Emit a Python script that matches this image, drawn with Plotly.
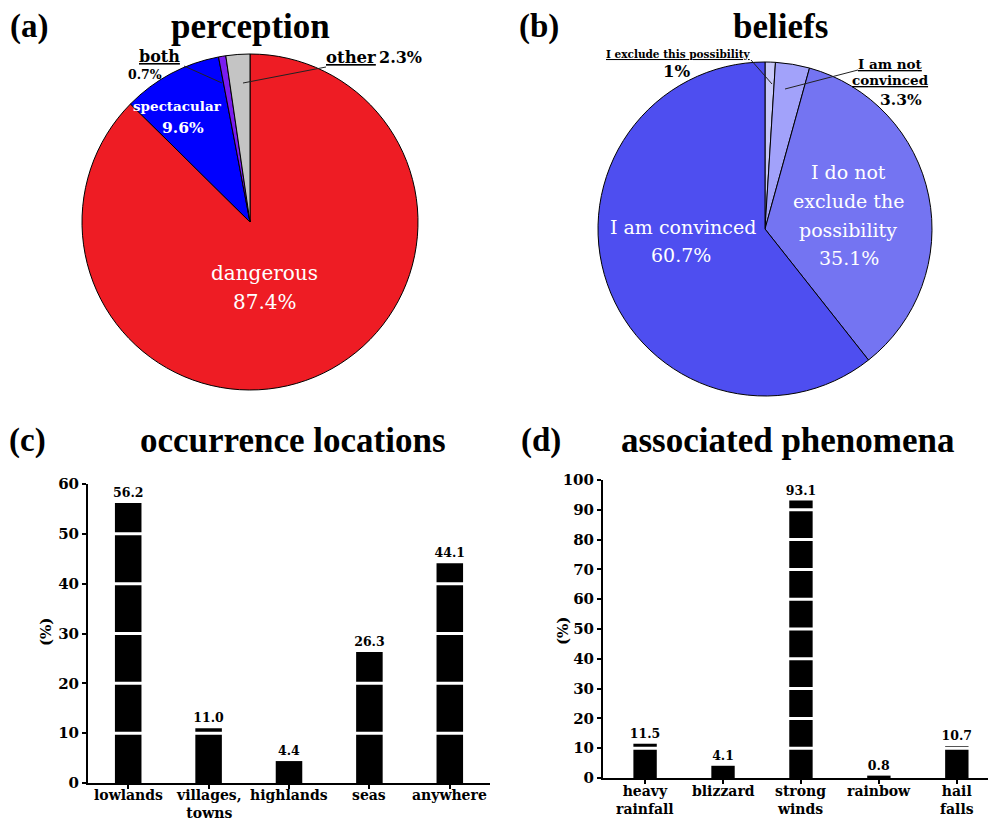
import plotly.graph_objects as go

W, H = 993, 819

# ---------------- data ----------------
perc_labels = ["dangerous", "spectacular", "both", "other"]
perc_values = [87.4, 9.6, 0.7, 2.3]
perc_colors = ["#ee1c24", "#0000ff", "#7a1cf0", "#c4c4c4"]

bel_labels = ["I exclude this possibility", "I am not convinced",
              "I do not exclude the possibility", "I am convinced"]
bel_values = [1.0, 3.3, 35.1, 60.7]
bel_colors = ["#c8c8fa", "#a2a2fa", "#7474f2", "#4e4ef0"]

loc_cats = ["lowlands", "villages, towns", "highlands", "seas", "anywhere"]
loc_tick_text = ["lowlands", "villages,<br>towns", "highlands", "seas", "anywhere"]
loc_values = [56.2, 11.0, 4.4, 26.3, 44.1]
loc_ticks = [0, 10, 20, 30, 40, 50, 60]

phen_cats = ["heavy rainfall", "blizzard", "strong winds", "rainbow", "hail falls"]
phen_tick_text = ["heavy<br>rainfall", "blizzard", "strong<br>winds", "rainbow", "hail<br>falls"]
phen_values = [11.5, 4.1, 93.1, 0.8, 10.7]
phen_ticks = [0, 10, 20, 30, 40, 50, 60, 70, 80, 90, 100]

TFONT = "Liberation Serif"
FONT = "DejaVu Serif"


def px(x):
    return x / W


def py(y):
    return 1 - y / H


def pie_domain(cx, cy, r):
    return dict(x=[px(cx - r), px(cx + r)], y=[py(cy + r), py(cy - r)])


fig = go.Figure()

fig.add_trace(go.Pie(
    labels=perc_labels, values=perc_values, sort=False, direction="clockwise",
    rotation=0, textinfo="none", hoverinfo="label+percent",
    marker=dict(colors=perc_colors, line=dict(color="black", width=1)),
    domain=pie_domain(250, 222, 168), showlegend=False,
))
fig.add_trace(go.Pie(
    labels=bel_labels, values=bel_values, sort=False, direction="clockwise",
    rotation=0, textinfo="none", hoverinfo="label+percent",
    marker=dict(colors=bel_colors, line=dict(color="black", width=1)),
    domain=pie_domain(765, 229, 167), showlegend=False,
))

fig.add_trace(go.Bar(
    x=loc_cats, y=loc_values, xaxis="x", yaxis="y",
    marker=dict(color="black", line=dict(width=0)),
    text=[f"<b>{v:.1f}</b>" for v in loc_values], textposition="outside",
    constraintext="none",
    textfont=dict(family=FONT, size=12.5, color="black"),
    cliponaxis=False, showlegend=False, width=0.33,
))
fig.add_trace(go.Bar(
    x=phen_cats, y=phen_values, xaxis="x2", yaxis="y2",
    marker=dict(color="black", line=dict(width=0)),
    text=[f"<b>{v:.1f}</b>" for v in phen_values], textposition="outside",
    constraintext="none",
    textfont=dict(family=FONT, size=12.5, color="black"),
    cliponaxis=False, showlegend=False, width=0.30,
))

axis_common = dict(showline=True, linecolor="black", linewidth=2, ticks="outside",
                   ticklen=4, tickwidth=1.5, tickcolor="black", showgrid=False,
                   zeroline=False, fixedrange=True, automargin=False,
                   tickfont=dict(family=FONT, size=15, color="black"))

shapes = []
# white separators drawn across the bars at each gridline value
for t in loc_ticks[1:-1]:
    shapes.append(dict(type="line", xref="x domain", yref="y", x0=0.01, x1=1,
                       y0=t, y1=t, line=dict(color="white", width=3), layer="above"))
for t in phen_ticks[1:-1]:
    shapes.append(dict(type="line", xref="x2 domain", yref="y2", x0=0.01, x1=1,
                       y0=t, y1=t, line=dict(color="white", width=3), layer="above"))

# leader lines on pies
for (x0, y0, x1, y1) in [(184, 66, 222, 83), (326, 67, 243, 83),
                          (751, 60, 772, 84), (858, 70, 785, 89)]:
    shapes.append(dict(type="line", xref="paper", yref="paper",
                       x0=px(x0), y0=py(y0), x1=px(x1), y1=py(y1),
                       line=dict(color="#222", width=1)))

ann = []


def text(x, y, s, size, color="black", family=FONT, angle=0):
    ann.append(dict(x=px(x), y=py(y), xref="paper", yref="paper", text=s,
                    showarrow=False, xanchor="center", yanchor="middle", textangle=angle,
                    font=dict(family=family, size=size, color=color)))


# panel titles
text(29, 27, "<b>(a)</b>", 33, family=TFONT)
text(250, 27, "<b>perception</b>", 35, family=TFONT)
text(539, 27, "<b>(b)</b>", 33, family=TFONT)
text(780, 27, "<b>beliefs</b>", 35, family=TFONT)
text(27, 440, "<b>(c)</b>", 33, family=TFONT)
text(293, 440, "<b>occurrence locations</b>", 35, family=TFONT)
text(541, 440, "<b>(d)</b>", 33, family=TFONT)
text(788, 440, "<b>associated phenomena</b>", 35, family=TFONT)

# pie (a) labels
text(264, 273, "dangerous", 20, "white")
text(265, 302, "87.4%", 20, "white")
text(177, 106, "<b>spectacular</b>", 13.5, "white")
text(183, 127, "<b>9.6%</b>", 15.5, "white")
text(159, 57, "<b><u>both</u></b>", 16)
text(145, 74, "<b>0.7%</b>", 12.5)
text(351, 58, "<b><u>other</u></b>", 16.5)
text(400, 58, "<b>2.3%</b>", 16)

# pie (b) labels
text(678, 54, "<b><u>I exclude this possibility</u></b>", 10.5)
text(676, 71, "<b>1%</b>", 16.5)
text(890, 64, "<b><u>I am not</u></b>", 13.5)
text(890, 80, "<b><u>convinced</u></b>", 13.5)
text(901, 99, "<b>3.3%</b>", 15.5)
text(683, 227, "I am convinced", 19, "white")
text(681, 255, "60.7%", 19, "white")
text(848, 172, "I do not", 19, "white")
text(848, 201, "exclude the", 19, "white")
text(848, 230, "possibility", 19, "white")
text(849, 258, "35.1%", 19, "white")

# y-axis titles
text(46, 632, "<b>(%)</b>", 15, angle=-90)
text(563, 631, "<b>(%)</b>", 15, angle=-90)

# category labels under the bars
for cats, labels, xref, y_top, fs in [(loc_cats, loc_tick_text, "x", 785, 14),
                                      (phen_cats, phen_tick_text, "x2", 781, 14)]:
    for c, s in zip(cats, labels):
        ann.append(dict(x=c, y=py(y_top), xref=xref, yref="paper", text=f"<b>{s}</b>",
                        showarrow=False, yanchor="top",
                        font=dict(family=FONT, size=fs, color="black")))

fig.update_layout(
    width=W, height=H, margin=dict(l=0, r=0, t=0, b=0, autoexpand=False),
    paper_bgcolor="white", plot_bgcolor="white",
    font=dict(family=FONT, color="black"),
    xaxis=dict(domain=[px(88), px(490)], range=[-0.5, 4.5], tickvals=loc_cats,
               showticklabels=False, **axis_common),
    yaxis=dict(domain=[py(783), py(484)], range=[0, 60], tickvals=loc_ticks,
               ticktext=[f"<b>{t}</b>" for t in loc_ticks], **axis_common),
    xaxis2=dict(domain=[px(603), px(988)], range=[-0.54, 4.4], anchor="y2",
                tickvals=phen_cats, showticklabels=False, **axis_common),
    yaxis2=dict(domain=[py(778), py(480)], range=[0, 100], tickvals=phen_ticks, anchor="x2",
                ticktext=[f"<b>{t}</b>" for t in phen_ticks], **axis_common),
    shapes=shapes, annotations=ann,
)

fig.write_html("out.html", config={"displayModeBar": False},
               post_script="document.body.style.margin='0px';")
